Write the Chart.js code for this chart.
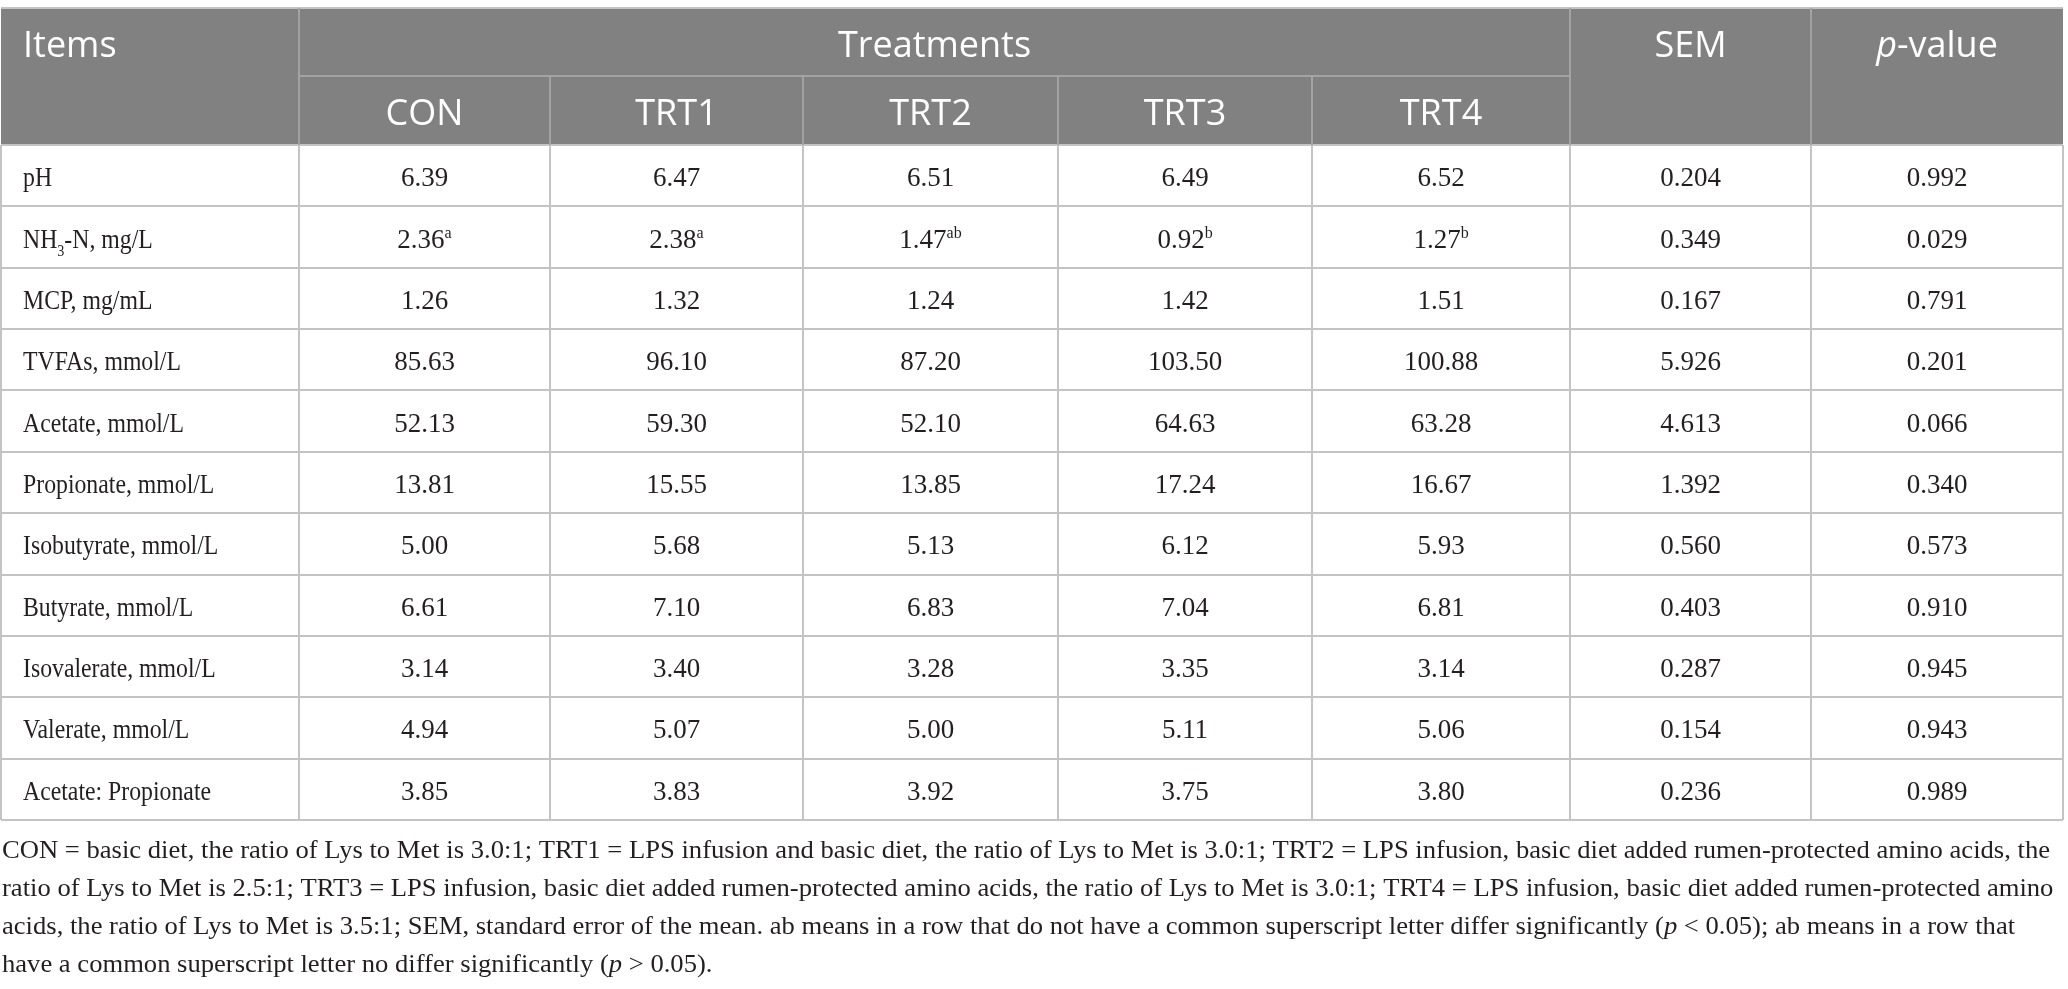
<!DOCTYPE html>
<html>
<head>
<meta charset="utf-8">
<title>Rumen fermentation parameters</title>
<script src="https://cdn.jsdelivr.net/npm/chart.js@4.4.1/dist/chart.umd.min.js"></script>
<style>
    html, body { margin: 0; padding: 0; background: #fff; }
    canvas { display: block; }
</style>
</head>
<body>
<canvas id="myChart" width="2068" height="989"></canvas>
<script>
// table content
var items = ['pH', 'NH3-N, mg/L', 'MCP, mg/mL', 'TVFAs, mmol/L', 'Acetate, mmol/L', 'Propionate, mmol/L',
    'Isobutyrate, mmol/L', 'Butyrate, mmol/L', 'Isovalerate, mmol/L', 'Valerate, mmol/L', 'Acetate: Propionate'];
var treatments = ['CON', 'TRT1', 'TRT2', 'TRT3', 'TRT4'];
var con  = [6.39, 2.36, 1.26, 85.63, 52.13, 13.81, 5.00, 6.61, 3.14, 4.94, 3.85];
var trt1 = [6.47, 2.38, 1.32, 96.10, 59.30, 15.55, 5.68, 7.10, 3.40, 5.07, 3.83];
var trt2 = [6.51, 1.47, 1.24, 87.20, 52.10, 13.85, 5.13, 6.83, 3.28, 5.00, 3.92];
var trt3 = [6.49, 0.92, 1.42, 103.50, 64.63, 17.24, 6.12, 7.04, 3.35, 5.11, 3.75];
var trt4 = [6.52, 1.27, 1.51, 100.88, 63.28, 16.67, 5.93, 6.81, 3.14, 5.06, 3.80];
var sem    = [0.204, 0.349, 0.167, 5.926, 4.613, 1.392, 0.560, 0.403, 0.287, 0.154, 0.236];
var pValue = [0.992, 0.029, 0.791, 0.201, 0.066, 0.340, 0.573, 0.910, 0.945, 0.943, 0.989];
var nh3Letters = ['a', 'a', 'ab', 'b', 'b'];   // superscripts, NH3-N row
var footLines = [
    [['CON = basic diet, the ratio of Lys to Met is 3.0:1; TRT1 = LPS infusion and basic diet, the ratio of Lys to Met is 3.0:1; TRT2 = LPS infusion, basic diet added rumen-protected amino acids, the']],
    [['ratio of Lys to Met is 2.5:1; TRT3 = LPS infusion, basic diet added rumen-protected amino acids, the ratio of Lys to Met is 3.0:1; TRT4 = LPS infusion, basic diet added rumen-protected amino']],
    [['acids, the ratio of Lys to Met is 3.5:1; SEM, standard error of the mean. ab means in a row that do not have a common superscript letter differ significantly ('], ['p', 1], [' < 0.05); ab means in a row that']],
    [['have a common superscript letter no differ significantly ('], ['p', 1], [' > 0.05).']]
];

// layout
var colWidths = [298, 251, 253, 255, 254, 258, 241, 252];
var rowHeights = [68, 69, 61.36, 61.36, 61.36, 61.36, 61.36, 61.36, 61.36, 61.36, 61.36, 61.36, 61.36];
var SERIF = '"Liberation Serif", "DejaVu Serif", serif';
var SANS = '"Open Sans", "Noto Sans", sans-serif';
var itemSqueeze = 0.88;

var colEdges = [0], rowEdges = [0];
colWidths.forEach(function (w) { colEdges.push(colEdges[colEdges.length - 1] + w); });
rowHeights.forEach(function (h) { rowEdges.push(rowEdges[rowEdges.length - 1] + h); });
var totalW = colEdges[colEdges.length - 1], totalH = rowEdges[rowEdges.length - 1];
function colMid(j) { return (colEdges[j] + colEdges[j + 1]) / 2; }
function rowMid(i) { return (rowEdges[i] + rowEdges[i + 1]) / 2; }

var valueCols = [con, trt1, trt2, trt3, trt4, sem, pValue];
var datasets = valueCols.map(function (vals, j) {
    return {
        label: j < 5 ? treatments[j] : (j == 5 ? 'SEM' : 'p-value'),
        data: vals.map(function (v, i) { return {x: colMid(j + 1), y: rowMid(i + 2), v: v}; }),
        pointRadius: 0,
        decimals: j < 5 ? 2 : 3
    };
});

function segWidth(ctx, segs) {
    var w = 0;
    segs.forEach(function (s) { ctx.font = s.font; w += ctx.measureText(s.t).width; });
    return w;
}
function drawRich(ctx, segs, x, y, align, k) {
    k = k || 1;
    var w = segWidth(ctx, segs) * k;
    var sx = align === 'center' ? x - w / 2 : x;
    ctx.save();
    ctx.translate(sx, y);
    ctx.scale(k, 1);
    ctx.textAlign = 'left';
    ctx.textBaseline = 'alphabetic';
    var cx = 0;
    segs.forEach(function (s) {
        ctx.font = s.font;
        ctx.fillText(s.t, cx, s.dy || 0);
        cx += ctx.measureText(s.t).width;
    });
    ctx.restore();
}
function itemSegs(label) {
    var f = '27px ' + SERIF;
    var m = label.indexOf('NH3');
    if (m < 0) return [{t: label, font: f}];
    return [{t: 'NH', font: f}, {t: '3', font: '16px ' + SERIF, dy: 8}, {t: label.slice(m + 3), font: f}];
}
function footSegs(line) {
    return line.map(function (p) {
        return {t: p[0], font: (p[1] ? 'italic ' : '') + '25px ' + SERIF};
    });
}

var tablePlugin = {
    id: 'tablePlugin',
    beforeDatasetsDraw: function (chart) {
        var ctx = chart.ctx, xs = chart.scales.x, ys = chart.scales.y;
        function X(u) { return Math.round(xs.getPixelForValue(u)); }
        function Y(u) { return Math.round(ys.getPixelForValue(u)); }
        var hb = rowEdges[2];
        ctx.save();
        ctx.fillStyle = '#808180';
        ctx.fillRect(X(0), Y(0), X(totalW) - X(0), Y(hb) - Y(0));
        // body grid
        ctx.strokeStyle = '#c4c4c4';
        ctx.lineWidth = 2;
        ctx.beginPath();
        for (var i = 2; i < rowEdges.length; i++) {
            ctx.moveTo(X(0), Y(rowEdges[i])); ctx.lineTo(X(totalW), Y(rowEdges[i]));
        }
        for (var j = 0; j < colEdges.length; j++) {
            ctx.moveTo(X(colEdges[j]), Y(hb)); ctx.lineTo(X(colEdges[j]), Y(totalH));
        }
        ctx.moveTo(X(0), Y(0)); ctx.lineTo(X(totalW), Y(0));
        ctx.stroke();
        // header grid
        ctx.strokeStyle = '#a3a3a3';
        ctx.beginPath();
        ctx.moveTo(X(colEdges[1]), Y(rowEdges[1])); ctx.lineTo(X(colEdges[6]), Y(rowEdges[1]));
        [1, 6, 7].forEach(function (c) {
            ctx.moveTo(X(colEdges[c]), Y(0)); ctx.lineTo(X(colEdges[c]), Y(hb));
        });
        [2, 3, 4, 5].forEach(function (c) {
            ctx.moveTo(X(colEdges[c]), Y(rowEdges[1])); ctx.lineTo(X(colEdges[c]), Y(hb));
        });
        ctx.stroke();
        ctx.restore();
    },
    afterDatasetsDraw: function (chart) {
        var ctx = chart.ctx, xs = chart.scales.x, ys = chart.scales.y;
        function X(u) { return xs.getPixelForValue(u); }
        function Y(u) { return ys.getPixelForValue(u); }
        ctx.save();
        // stretch footnote so its first line spans the table width, as in the original
        var k = 2048 / segWidth(ctx, footSegs(footLines[0]));

        // header
        ctx.fillStyle = '#ffffff';
        var hf = '36px ' + SANS;
        var b1 = Y(0) + 49, b2 = Y(rowEdges[1]) + 49;
        drawRich(ctx, [{t: 'Items', font: hf}], X(0) + 22, b1, 'left');
        drawRich(ctx, [{t: 'Treatments', font: hf}], X((colEdges[1] + colEdges[6]) / 2), b1, 'center');
        drawRich(ctx, [{t: 'SEM', font: hf}], X(colMid(6)), b1, 'center');
        drawRich(ctx, [{t: 'p', font: 'italic ' + hf}, {t: '-value', font: hf}], X(colMid(7)), b1, 'center');
        treatments.forEach(function (t, j) {
            drawRich(ctx, [{t: t, font: hf}], X(colMid(j + 1)), b2, 'center');
        });

        // body
        ctx.fillStyle = '#231f20';
        items.forEach(function (lab, i) {
            drawRich(ctx, itemSegs(lab), X(0) + 22, Y(rowMid(i + 2)) + 10.5, 'left', itemSqueeze);
        });
        chart.data.datasets.forEach(function (ds, j) {
            var meta = chart.getDatasetMeta(j);
            meta.data.forEach(function (el, i) {
                var segs = [{t: ds.data[i].v.toFixed(ds.decimals), font: '27px ' + SERIF}];
                if (i === 1 && j < 5) segs.push({t: nh3Letters[j], font: '16px ' + SERIF, dy: -10});
                drawRich(ctx, segs, el.x, el.y + 10.5, 'center');
            });
        });

        // footnote
        footLines.forEach(function (line, n) {
            drawRich(ctx, footSegs(line), 2, Y(totalH) + 38 + n * 38, 'left', k);
        });
        ctx.restore();
    }
};

function makeChart() {
    new Chart(document.getElementById('myChart'), {
        type: 'scatter',
        data: {datasets: datasets},
        options: {
            responsive: false,
            animation: false,
            events: [],
            layout: {padding: {left: 1, top: 8, right: 5, bottom: 169}},
            scales: {
                x: {type: 'linear', min: 0, max: totalW, display: false},
                y: {type: 'linear', min: 0, max: totalH, reverse: true, display: false}
            },
            plugins: {legend: {display: false}, tooltip: {enabled: false}, title: {display: false}}
        },
        plugins: [tablePlugin]
    });
}

if (document.fonts && document.fonts.load) {
    Promise.all([
        document.fonts.load('36px "Open Sans"'),
        document.fonts.load('27px "Liberation Serif"'),
        document.fonts.load('italic 25px "Liberation Serif"')
    ]).then(makeChart, makeChart);
} else {
    makeChart();
}
</script>
</body>
</html>
